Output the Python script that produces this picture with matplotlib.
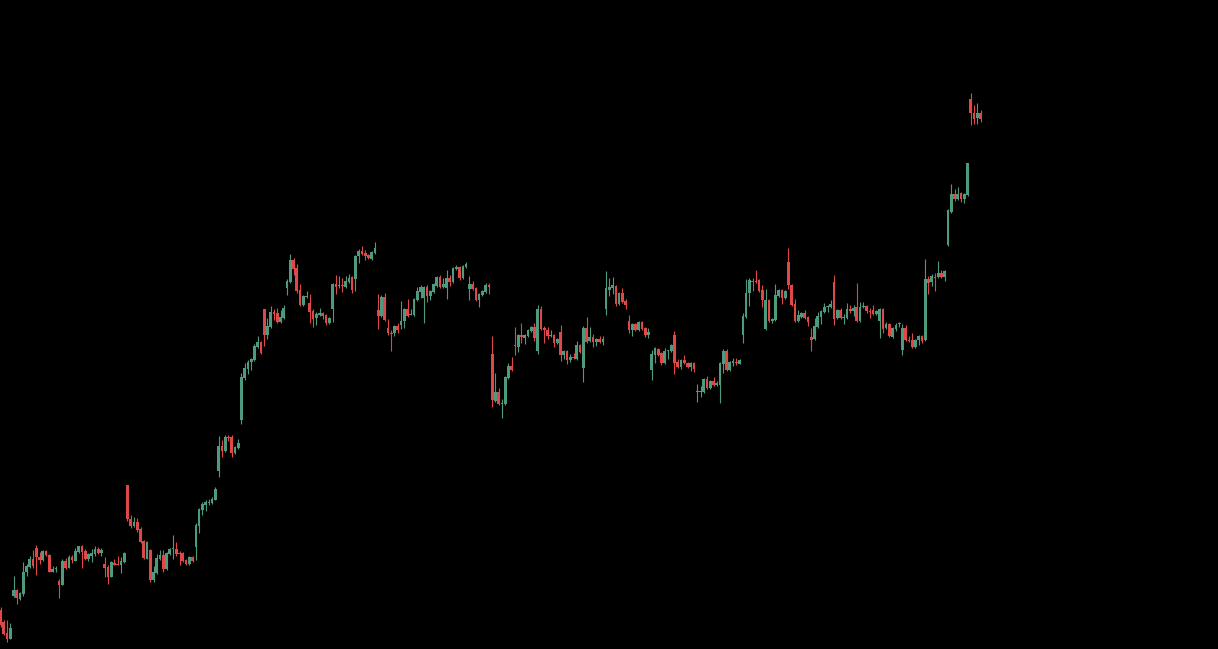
import matplotlib
matplotlib.use("Agg")
import matplotlib.pyplot as plt
import numpy as np

# OHLC read off the picture, in pixel rows measured down from the top of the chart
# (converted to price levels below: price = 649 - row)
opens = [
    610, 622, 633, 639, 596, 590, 599, 594, 572, 567,
    559, 548, 557, 560, 551, 555, 572, 569, 581, 585,
    561, 568, 557, 561, 552, 546, 551, 559, 556, 554,
    549, 553, 564, 567, 577, 563, 564, 565, 562, 485,
    519, 526, 522, 529, 541, 559, 550, 580, 573, 559,
    555, 569, 554, 549, 549, 553, 553, 560, 564, 557,
    547, 526, 510, 505, 503, 503, 500, 471, 446, 451,
    437, 437, 453, 448, 420, 378, 369, 362, 360, 347,
    342, 309, 335, 327, 312, 313, 322, 318, 288, 282,
    260, 268, 290, 305, 297, 303, 311, 318, 315, 313,
    315, 323, 309, 284, 286, 285, 287, 282, 277, 279,
    256, 251, 253, 255, 259, 253, 310, 316, 297, 328,
    333, 333, 326, 325, 321, 309, 315, 315, 300, 292,
    298, 287, 296, 292, 286, 277, 287, 288, 278, 282,
    269, 267, 278, 267, 289, 284, 288, 300, 295, 292,
    285, 354, 401, 392, 404, 404, 378, 366, 345, 347,
    335, 338, 336, 331, 327, 351, 309, 328, 330, 336,
    335, 343, 332, 355, 351, 360, 357, 359, 345, 368,
    328, 341, 337, 342, 339, 342, 309, 290, 288, 286,
    304, 293, 301, 321, 330, 324, 330, 322, 328, 335,
    370, 355, 349, 353, 363, 351, 351, 335, 362, 367,
    360, 363, 367, 363, 392, 392, 392, 379, 388, 381,
    385, 385, 364, 351, 370, 363, 362, 364, 335, 317,
    293, 281, 281, 280, 290, 329, 300, 321, 320, 296,
    290, 298, 262, 285, 304, 321, 317, 313, 317, 337,
    339, 327, 317, 312, 307, 307, 282, 318, 310, 318,
    318, 309, 311, 307, 321, 307, 306, 311, 310, 314,
    321, 309, 328, 324, 337, 329, 324, 350, 328, 340,
    340, 347, 340, 336, 340, 279, 282, 277, 277, 273,
    277, 245, 212, 194, 199, 193, 199, 195, 99, 113,
    118, 113,
]
highs = [
    607, 620, 620, 623, 576, 589, 592, 562, 564, 556,
    550, 545, 552, 550, 550, 554, 566, 566, 579, 559,
    558, 555, 555, 548, 546, 545, 549, 553, 549, 546,
    547, 548, 557, 565, 561, 559, 556, 557, 552, 485,
    515, 517, 518, 527, 540, 541, 549, 566, 554, 550,
    550, 552, 548, 535, 542, 551, 552, 559, 556, 556,
    523, 508, 502, 500, 499, 497, 487, 436, 440, 435,
    435, 435, 446, 439, 373, 363, 360, 358, 344, 336,
    341, 309, 318, 306, 309, 308, 310, 305, 279, 254,
    258, 264, 284, 295, 291, 294, 309, 312, 308, 312,
    314, 317, 283, 275, 276, 278, 276, 274, 276, 255,
    249, 246, 250, 254, 251, 242, 294, 295, 293, 319,
    330, 325, 323, 301, 308, 299, 309, 298, 287, 285,
    286, 285, 290, 283, 276, 275, 278, 270, 275, 267,
    265, 266, 265, 262, 276, 281, 287, 293, 290, 283,
    283, 336, 373, 388, 399, 376, 363, 357, 327, 334,
    323, 334, 329, 326, 323, 305, 306, 326, 327, 330,
    334, 338, 325, 350, 350, 354, 353, 341, 344, 326,
    317, 327, 334, 338, 336, 336, 271, 278, 277, 285,
    292, 288, 299, 315, 323, 323, 321, 321, 327, 328,
    350, 347, 348, 352, 348, 350, 344, 331, 359, 359,
    355, 362, 362, 362, 384, 386, 378, 376, 380, 377,
    381, 362, 349, 349, 361, 358, 358, 359, 313, 279,
    278, 278, 270, 279, 285, 289, 299, 318, 284, 289,
    289, 290, 248, 284, 299, 310, 312, 310, 316, 328,
    318, 312, 310, 303, 305, 300, 275, 309, 308, 314,
    303, 305, 305, 283, 302, 302, 305, 308, 305, 310,
    308, 308, 322, 323, 327, 323, 322, 324, 325, 336,
    333, 339, 335, 335, 259, 276, 274, 273, 261, 270,
    270, 209, 184, 189, 187, 192, 193, 163, 93, 105,
    103, 110,
]
lows = [
    627, 635, 642, 639, 597, 604, 600, 596, 576, 568,
    568, 575, 564, 561, 556, 572, 572, 572, 598, 585,
    569, 568, 563, 561, 553, 568, 560, 561, 562, 556,
    554, 556, 577, 584, 577, 565, 565, 573, 563, 521,
    528, 527, 532, 543, 559, 559, 582, 582, 574, 560,
    572, 570, 555, 559, 556, 565, 562, 565, 565, 562,
    560, 533, 515, 511, 505, 504, 500, 477, 457, 452,
    441, 457, 454, 449, 424, 380, 374, 370, 361, 348,
    354, 346, 339, 328, 320, 323, 323, 319, 295, 283,
    275, 293, 306, 306, 298, 323, 327, 325, 316, 319,
    325, 324, 322, 294, 288, 292, 288, 283, 293, 291,
    263, 255, 260, 259, 260, 254, 329, 317, 321, 335,
    351, 336, 333, 329, 328, 317, 315, 316, 301, 298,
    323, 302, 300, 293, 287, 288, 288, 299, 286, 283,
    270, 280, 279, 268, 300, 290, 301, 307, 296, 293,
    294, 407, 402, 405, 418, 405, 379, 371, 355, 352,
    343, 344, 337, 332, 341, 354, 330, 343, 339, 337,
    347, 344, 361, 359, 364, 362, 359, 360, 353, 382,
    343, 342, 347, 346, 343, 345, 315, 296, 294, 306,
    305, 303, 309, 333, 336, 331, 331, 330, 337, 338,
    380, 363, 356, 365, 364, 359, 352, 374, 368, 369,
    364, 368, 371, 372, 402, 397, 393, 389, 389, 386,
    386, 403, 373, 371, 371, 366, 365, 364, 343, 318,
    306, 291, 283, 292, 307, 330, 322, 323, 321, 297,
    304, 299, 289, 306, 322, 322, 318, 319, 326, 351,
    340, 328, 324, 313, 312, 308, 325, 319, 319, 324,
    319, 313, 316, 322, 322, 308, 313, 318, 315, 315,
    338, 333, 329, 337, 338, 331, 327, 355, 341, 342,
    348, 348, 345, 343, 341, 294, 286, 291, 278, 278,
    281, 246, 213, 201, 200, 202, 203, 196, 125, 124,
    124, 122,
]
closes = [
    625, 634, 639, 628, 590, 598, 593, 572, 566, 559,
    566, 557, 560, 551, 555, 572, 569, 568, 585, 561,
    568, 557, 560, 551, 546, 552, 559, 554, 553, 549,
    553, 550, 568, 577, 562, 565, 565, 561, 553, 519,
    526, 522, 530, 542, 558, 542, 580, 572, 558, 555,
    569, 553, 549, 548, 554, 554, 561, 564, 557, 561,
    525, 509, 504, 502, 502, 499, 489, 446, 451, 437,
    438, 453, 447, 443, 377, 368, 362, 359, 346, 342,
    353, 335, 326, 312, 314, 322, 317, 308, 281, 260,
    269, 291, 305, 296, 296, 312, 319, 314, 313, 316,
    323, 318, 284, 287, 285, 286, 281, 278, 290, 256,
    251, 254, 256, 258, 252, 248, 316, 297, 320, 333,
    334, 326, 330, 321, 309, 316, 314, 299, 291, 287,
    287, 296, 291, 284, 277, 287, 284, 278, 282, 268,
    267, 278, 266, 264, 284, 289, 300, 294, 291, 285,
    287, 400, 392, 404, 403, 377, 366, 370, 346, 335,
    337, 335, 330, 327, 338, 309, 329, 330, 336, 335,
    343, 339, 355, 351, 360, 357, 358, 345, 352, 328,
    342, 337, 342, 339, 342, 339, 288, 287, 285, 304,
    293, 302, 305, 330, 324, 330, 322, 329, 335, 332,
    354, 348, 355, 363, 351, 350, 345, 363, 367, 360,
    363, 367, 363, 369, 392, 391, 379, 388, 381, 385,
    383, 363, 351, 370, 362, 361, 363, 360, 316, 293,
    280, 282, 282, 291, 300, 300, 321, 319, 295, 290,
    298, 291, 285, 305, 321, 315, 313, 318, 322, 340,
    326, 316, 311, 307, 306, 304, 319, 310, 318, 317,
    309, 311, 308, 321, 307, 306, 311, 312, 314, 311,
    309, 329, 324, 336, 328, 325, 323, 328, 340, 341,
    347, 340, 336, 341, 279, 283, 276, 278, 273, 277,
    271, 210, 194, 199, 194, 199, 194, 163, 113, 119,
    113, 119,
]

TOP = 649
o = TOP - np.array(opens, dtype=float)
h = TOP - np.array(highs, dtype=float)
l = TOP - np.array(lows, dtype=float)
c = TOP - np.array(closes, dtype=float)
x = np.arange(len(o))

up_color = '#4e9a7f'
down_color = '#e04848'
colors = np.where(c >= o, up_color, down_color)

fig = plt.figure(figsize=(12.18, 6.49), dpi=100, facecolor='black')
ax = fig.add_axes([0, 0, 1, 1])
ax.set_facecolor('black')

ax.vlines(x, l, h, colors=colors, linewidth=0.8)
body_bottom = np.minimum(o, c)
body_height = np.maximum(np.abs(c - o), 1.0)
ax.bar(x, body_height, bottom=body_bottom, width=0.83, color=colors, linewidth=0)

spacing = 3.256  # pixels between candles
ax.set_xlim(-0.5 / spacing, (1218 - 0.5) / spacing)
ax.set_ylim(0, TOP)
ax.axis('off')

fig.savefig('out.png', dpi=100, facecolor='black')
